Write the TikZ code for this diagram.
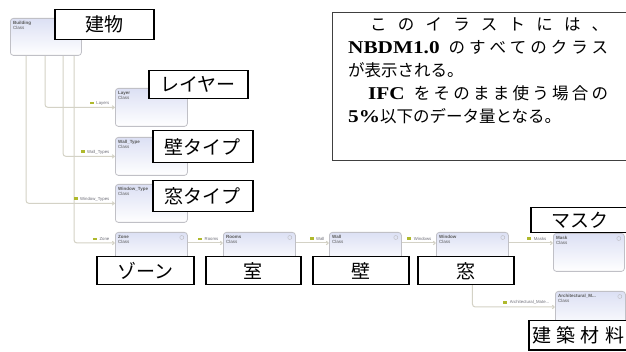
\documentclass[tikz,border=0pt]{standalone}
\usepackage{fontspec}
\setmainfont{Liberation Serif}
\newfontfamily\jp{Noto Sans CJK JP}
\newfontfamily\uif{Liberation Sans}
\newfontfamily\lat[FakeStretch=1.18]{Liberation Serif}
\usetikzlibrary{arrows.meta}
\definecolor{lineg}{RGB}{212,210,198}
\definecolor{boxg}{RGB}{192,192,198}
\definecolor{lav}{RGB}{220,224,244}
\definecolor{txtg}{RGB}{110,110,120}
\definecolor{iconc}{RGB}{175,185,45}
\tikzset{
 clsbox/.style={draw=boxg, line width=0.8pt, rounded corners=3pt, top color=lav, bottom color=white, inner sep=0pt, anchor=north west},
 clstitle/.style={font=\uif\fontsize{4.5}{5.5}\selectfont, text=black!65, align=left, inner sep=0pt, anchor=north west},
 clsbtn/.style={draw=boxg, line width=0.5pt},
 conn/.style={draw=lineg, line width=1pt, rounded corners=3pt, -{Straight Barb[length=2pt,width=3.5pt]}},
 clab/.style={font=\uif\fontsize{4.3}{4.3}\selectfont, text=txtg, inner sep=0.5pt, anchor=south east},
 icn/.style={fill=iconc, minimum width=4pt, minimum height=2.5pt, inner sep=0pt, anchor=east},
 tag/.style={draw=black, line width=1.5pt, fill=white, inner sep=0pt, anchor=north west, font=\jp\fontsize{19}{19}\selectfont},
 memo/.style={draw=black!75, line width=0.8pt, fill=white},
 tline/.style={anchor=base west, inner sep=0pt, font=\fontsize{16.5}{16.5}\selectfont},
}
\newcommand\clsnode[6]{%
 \node[clsbox, minimum width=#4pt, minimum height=#5pt] (#1) at (#2,#3) {};
 \node[clstitle] (#1-t) at ([xshift=3pt,yshift=-3pt]#1.north west) {\textbf{#6}\\Class};
 \draw[clsbtn] ([xshift=-6pt,yshift=-5.5pt]#1.north east) circle (2pt);
}
\newcommand\conlabel[3]{%
 \node[clab] (#1) at #2 {#3};
 \node[icn] (#1-i) at ([xshift=-1.5pt,yshift=0.5pt]#1.west) {};
}
\newcommand\latb[1]{{\lat\bfseries\fontsize{18}{18}\selectfont #1}}
\begin{document}
\begin{tikzpicture}[x=1pt,y=-1pt]
\useasboundingbox (0,0) rectangle (626,352);
\fill[white] (0,0) rectangle (626,352);

% class boxes
\clsnode{bld}{10}{18}{71}{37}{Building}
\clsnode{lay}{115}{88}{72}{38}{Layer}
\clsnode{wty}{115}{137}{72}{38}{Wall\_Type}
\clsnode{wint}{115}{184}{72}{38}{Window\_Type}
\clsnode{zone}{115}{232}{72}{30}{Zone}
\clsnode{rooms}{223}{232}{72}{30}{Rooms}
\clsnode{wall}{329}{232}{72}{30}{Wall}
\clsnode{win}{436}{232}{72}{30}{Window}
\clsnode{mask}{553}{233}{71}{38}{Mask}
\clsnode{arch}{555}{291}{70}{38}{Architectural\_M...}

% connectors from Building
\draw[conn] ([xshift=35pt]bld.south west) |- (lay.west);
\draw[conn] ([xshift=53pt]bld.south west) |- (wty.west);
\draw[conn] ([xshift=16pt]bld.south west) |- (wint.west);
\draw[conn] ([xshift=64pt]bld.south west) |- ([yshift=-11pt]zone.north west);
% chain
\draw[conn] ([yshift=-11pt]zone.north east) -- ([yshift=-11pt]rooms.north west);
\draw[conn] ([yshift=-11pt]rooms.north east) -- ([yshift=-11pt]wall.north west);
\draw[conn] ([yshift=-11pt]wall.north east) -- ([yshift=-11pt]win.north west);
\draw[conn] ([yshift=-11pt]win.north east) -- ([yshift=-10pt]mask.north west);
\draw[conn] (win.south) |- ([yshift=-16pt]arch.north west);

% connector labels
\conlabel{lLay}{([xshift=-5pt,yshift=1.5pt]lay.west)}{Layers}
\conlabel{lWty}{([xshift=-5pt,yshift=1.5pt]wty.west)}{Wall\_Types}
\conlabel{lWin}{([xshift=-5pt,yshift=1.5pt]wint.west)}{Window\_Types}
\conlabel{lZone}{([xshift=-5pt,yshift=-9.5pt]zone.north west)}{Zone}
\conlabel{lRooms}{([xshift=-4pt,yshift=-9.5pt]rooms.north west)}{Rooms}
\conlabel{lWall}{([xshift=-4pt,yshift=-9.5pt]wall.north west)}{Wall}
\conlabel{lWinds}{([xshift=-4pt,yshift=-9.5pt]win.north west)}{Windows}
\conlabel{lMask}{([xshift=-6pt,yshift=-8.5pt]mask.north west)}{Masks}
\conlabel{lArch}{([xshift=-5pt,yshift=-14.5pt]arch.north west)}{Architectural\_Mate...}

% memo box
\draw[memo] (332,12) rectangle (630,160);
\node[tline] (m1) at (370,31) {\jp\makebox[238pt][s]{こ\hfill の\hfill イ\hfill ラ\hfill ス\hfill ト\hfill に\hfill は\hfill 、}};
\node[tline] (m2) at (348,54) {\makebox[260pt][s]{\latb{NBDM1.0}\hspace{9pt}\jp の\hfill す\hfill べ\hfill て\hfill の\hfill ク\hfill ラ\hfill ス}};
\node[tline] (m3) at (348,77) {\jp が表示される。};
\node[tline] (m4) at (368,100) {\makebox[240pt][s]{\latb{IFC}\hspace{9pt}\jp を\hfill そ\hfill の\hfill ま\hfill ま\hfill 使\hfill う\hfill 場\hfill 合\hfill の}};
\node[tline] (m5) at (348,123) {\latb{5\%}\jp 以下のデータ量となる。};

% Japanese tags
\node[tag, minimum width=99pt, minimum height=30pt] (tBld) at (54,9) {建物};
\node[tag, minimum width=99pt, minimum height=28pt] (tLay) at (148,70) {レイヤー};
\node[tag, minimum width=100pt, minimum height=32pt] (tWty) at (152,130) {壁タイプ};
\node[tag, minimum width=100pt, minimum height=31pt] (tWin) at (152,180) {窓タイプ};
\node[tag, minimum width=97pt, minimum height=28pt] (tZone) at (96,256) {ゾーン};
\node[tag, minimum width=95pt, minimum height=28pt] (tRoom) at (205,256) {室};
\node[tag, minimum width=96pt, minimum height=28pt] (tWall) at (312,256) {壁};
\node[tag, minimum width=96pt, minimum height=28pt] (tWnd) at (417,256) {窓};
\node[tag, minimum width=98pt, minimum height=25pt] (tMask) at (530,207) {マスク};
\node[tag, minimum width=99pt, minimum height=29pt] (tArch) at (528,320) {\makebox[92pt][s]{建\hfill 築\hfill 材\hfill 料}};
\end{tikzpicture}
\end{document}
